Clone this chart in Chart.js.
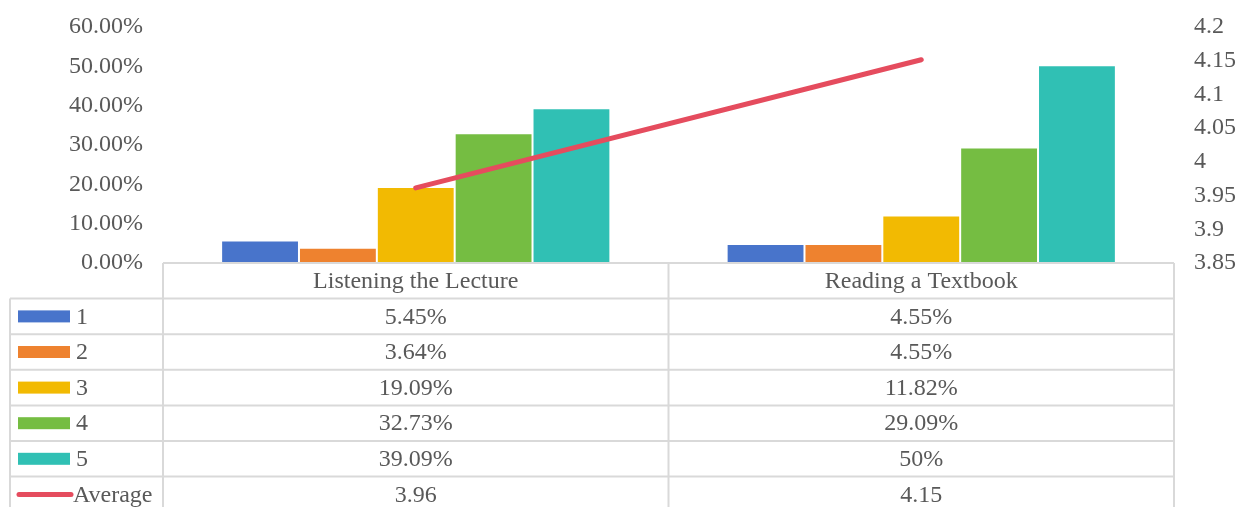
<!DOCTYPE html>
<html>
<head>
<meta charset="utf-8">
<script src="https://cdn.jsdelivr.net/npm/chart.js@4"></script>
<style>
  html, body { margin: 0; padding: 0; background: #fff; }
  #wrap { width: 1250px; height: 507px; }
</style>
</head>
<body>
<div id="wrap"><canvas id="chart" width="1250" height="507"></canvas></div>
<script>
// data
const categories = ['Listening the Lecture', 'Reading a Textbook'];
const levelNames = ['1', '2', '3', '4', '5'];
const level1 = [5.45, 4.55];
const level2 = [3.64, 4.55];
const level3 = [19.09, 11.82];
const level4 = [32.73, 29.09];
const level5 = [39.09, 50];
const average = [3.96, 4.15];
const leftTicks = [0, 10, 20, 30, 40, 50, 60];
const rightTicks = [3.85, 3.9, 3.95, 4, 4.05, 4.1, 4.15, 4.2];

const colors = ['#4874CB', '#EE822F', '#F2BA02', '#75BD42', '#30C0B4'];
const lineColor = '#E54C5E';
const textColor = '#595959';
const gridColor = '#D9D9D9';
const font = { family: "'Liberation Serif', 'Times New Roman', serif", size: 24 };

const levels = [level1, level2, level3, level4, level5];

// data table under the plot, drawn off the x scale
const dataTable = {
    id: 'dataTable',
    afterDraw(chart) {
        const ctx = chart.ctx;
        const area = chart.chartArea;
        const x = chart.scales.x;
        const rowH = 35.6;
        const tableLeft = 10;
        const top = 263;
        const mid = (x.getPixelForValue(0) + x.getPixelForValue(1)) / 2;
        const cols = [area.left, mid, area.right];
        const rows = levelNames.concat(['Average']);
        const bottom = top + rowH * (rows.length + 1);

        ctx.save();
        ctx.strokeStyle = gridColor;
        ctx.lineWidth = 2;
        ctx.beginPath();
        // header row
        ctx.moveTo(area.left, top); ctx.lineTo(area.right, top);
        for (let r = 1; r <= rows.length + 1; r++) {
            const y = top + rowH * r;
            ctx.moveTo(tableLeft, y); ctx.lineTo(area.right, y);
        }
        cols.forEach(cx => { ctx.moveTo(cx, top); ctx.lineTo(cx, bottom); });
        ctx.moveTo(tableLeft, top + rowH); ctx.lineTo(tableLeft, bottom);
        ctx.stroke();

        ctx.font = font.size + 'px ' + font.family;
        ctx.fillStyle = textColor;
        ctx.textBaseline = 'middle';
        ctx.textAlign = 'center';
        categories.forEach((c, i) => {
            ctx.fillText(c, x.getPixelForValue(i), top + rowH / 2 + 1);
        });

        rows.forEach((name, r) => {
            const cy = top + rowH * (r + 1.5);
            // legend key
            if (r < levels.length) {
                ctx.fillStyle = colors[r];
                ctx.fillRect(18, cy - 6, 52, 12);
            } else {
                ctx.strokeStyle = lineColor;
                ctx.lineWidth = 5;
                ctx.lineCap = 'round';
                ctx.beginPath();
                ctx.moveTo(19, cy); ctx.lineTo(71, cy);
                ctx.stroke();
            }
            ctx.fillStyle = textColor;
            ctx.textAlign = 'left';
            ctx.fillText(name, r < levels.length ? 76 : 73, cy + 1);
            ctx.textAlign = 'center';
            categories.forEach((c, i) => {
                const v = r < levels.length ? levels[r][i] + '%' : String(average[i]);
                ctx.fillText(v, x.getPixelForValue(i), cy + 1);
            });
        });
        ctx.restore();
    }
};

const barSets = levels.map((vals, i) => ({
    type: 'bar',
    label: levelNames[i],
    data: vals,
    backgroundColor: colors[i],
    borderColor: 'rgba(255,255,255,0.35)',
    borderWidth: 1,
    yAxisID: 'y',
    order: 1,
    categoryPercentage: 0.77,
    barPercentage: 1
}));

// fixed axis boxes so the plot area lands where the reference has it
function fitAxis(width) {
    return s => { s.width = width; s.paddingTop = 0; s.paddingBottom = 0; };
}

new Chart(document.getElementById('chart'), {
    data: {
        labels: categories,
        datasets: [...barSets, {
            type: 'line',
            label: 'Average',
            data: average,
            borderColor: lineColor,
            borderWidth: 5,
            borderCapStyle: 'round',
            pointRadius: 0,
            yAxisID: 'y1',
            order: 0
        }]
    },
    options: {
        responsive: false,
        animation: false,
        layout: { padding: { top: 26, bottom: 245, left: 0, right: 0 } },
        plugins: { legend: { display: false }, tooltip: { enabled: false } },
        scales: {
            x: { display: false, offset: true },
            y: {
                position: 'left',
                min: leftTicks[0],
                max: leftTicks[leftTicks.length - 1],
                afterBuildTicks: s => { s.ticks = leftTicks.map(v => ({ value: v })); },
                afterFit: fitAxis(163),
                grid: { display: false, drawTicks: false },
                border: { display: false },
                ticks: { color: textColor, font: font, padding: 20, labelOffset: 1, callback: v => v.toFixed(2) + '%' }
            },
            y1: {
                position: 'right',
                min: rightTicks[0],
                max: rightTicks[rightTicks.length - 1],
                afterBuildTicks: s => { s.ticks = rightTicks.map(v => ({ value: v })); },
                afterFit: fitAxis(76),
                grid: { display: false, drawTicks: false },
                border: { display: false },
                ticks: { color: textColor, font: font, padding: 20, labelOffset: 1, callback: v => String(+v.toFixed(2)) }
            }
        }
    },
    plugins: [dataTable]
});
</script>
</body>
</html>
